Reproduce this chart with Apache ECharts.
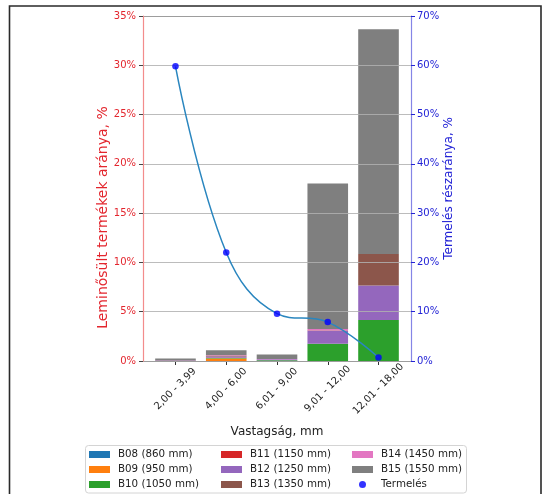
<!DOCTYPE html>
<html>
<head>
<meta charset="utf-8">
<script src="https://cdn.jsdelivr.net/npm/echarts@6/dist/echarts.min.js"></script>
<style>
  html, body { margin: 0; padding: 0; background: #fff; }
  #chart { width: 545px; height: 494px; }
</style>
</head>
<body>
<div id="chart"></div>
<script>
// Thickness classes (x axis)
const categories = ['2,00 - 3,99', '4,00 - 6,00', '6,01 - 9,00', '9,01 - 12,00', '12,01 - 18,00'];

// Share of downgraded products per width class, % (left axis, stacked)
const b08 = [0, 0, 0, 0, 0];
const b09 = [0, 0.25, 0, 0, 0];
const b10 = [0, 0.05, 0.08, 1.75, 4.15];
const b11 = [0, 0.03, 0, 0, 0];
const b12 = [0.05, 0.12, 0.1, 1.3, 3.5];
const b13 = [0.02, 0.1, 0, 0.05, 3.2];
const b14 = [0, 0.07, 0.02, 0.15, 0];
const b15 = [0.18, 0.47, 0.47, 14.75, 22.8];

// Production share per thickness class, % (right axis)
const production = [59.8, 22.0, 9.6, 7.9, 0.7];

const widthNames = ['B08 (860 mm)', 'B09 (950 mm)', 'B10 (1050 mm)', 'B11 (1150 mm)',
  'B12 (1250 mm)', 'B13 (1350 mm)', 'B14 (1450 mm)', 'B15 (1550 mm)'];
const widthValues = [b08, b09, b10, b11, b12, b13, b14, b15];
const widthColors = ['#1f77b4', '#ff7f0e', '#2ca02c', '#d62728', '#9467bd', '#8c564b', '#e377c2', '#7f7f7f'];

const FONT = 'DejaVu Sans';
const RED = '#e3262e';
const BLUE = '#2323d6';
const positions = categories.map((c, i) => i);

// Frame of the plot: x runs from -0.64 to 4.64 (bars of width 0.8 plus 5% margin)
const X_MIN = -0.64, X_MAX = 4.64;
const FRAME = { left: 143, right: 411, top: 16, bottom: 361 };
const unit = (FRAME.right - FRAME.left) / (X_MAX - X_MIN);
const bandLeft = FRAME.left + (-0.5 - X_MIN) * unit;
const bandRight = bandLeft + categories.length * unit;

const chart = echarts.init(document.getElementById('chart'), null, { renderer: 'canvas' });

const barSeries = widthNames.map((name, k) => ({
  name: name,
  type: 'bar',
  stack: 'widths',
  xAxisIndex: 0,
  yAxisIndex: 0,
  barWidth: '80%',
  itemStyle: { color: widthColors[k] },
  data: widthValues[k],
  z: 2
}));

const legendBase = {
  orient: 'vertical',
  top: 448,
  padding: 0,
  itemGap: 2,
  itemWidth: 21,
  itemHeight: 7,
  textStyle: { fontFamily: FONT, fontSize: 10.3, color: '#222', lineHeight: 13, padding: [0, 0, 0, 3] }
};
const rectItem = n => ({ name: n, icon: 'rect' });

chart.setOption({
  animation: false,
  backgroundColor: '#fff',
  textStyle: { fontFamily: FONT },
  grid: [
    // bars
    { left: bandLeft, right: 545 - bandRight, top: FRAME.top, bottom: 494 - FRAME.bottom, containLabel: false },
    // axes frame, grid lines and production curve
    { left: FRAME.left, right: 545 - FRAME.right, top: FRAME.top, bottom: 494 - FRAME.bottom, containLabel: false }
  ],
  legend: [
    Object.assign({}, legendBase, { left: 89, data: widthNames.slice(0, 3).map(rectItem) }),
    Object.assign({}, legendBase, { left: 221, data: widthNames.slice(3, 6).map(rectItem) }),
    Object.assign({}, legendBase, { left: 352, data: [rectItem(widthNames[6]), rectItem(widthNames[7]), { name: 'Termelés', icon: 'circle' }] })
  ],
  xAxis: [
    {
      gridIndex: 0,
      type: 'category',
      data: categories,
      boundaryGap: true,
      axisLine: { show: false },
      axisTick: { show: false },
      axisLabel: { show: false },
      splitLine: { show: false }
    },
    {
      gridIndex: 1,
      type: 'value',
      position: 'bottom',
      min: X_MIN,
      max: X_MAX,
      name: 'Vastagság, mm',
      nameLocation: 'middle',
      nameGap: 65,
      nameTextStyle: { fontFamily: FONT, fontSize: 12, color: '#222' },
      axisLine: { show: true, onZero: false, lineStyle: { color: '#333', width: 1 } },
      axisTick: { show: true, customValues: positions, length: 4, lineStyle: { color: '#333' } },
      axisLabel: {
        customValues: positions,
        formatter: v => categories[Math.round(v)],
        rotate: 45,
        align: 'center',
        verticalAlign: 'middle',
        margin: 28,
        fontFamily: FONT,
        fontSize: 10,
        color: '#222'
      },
      splitLine: { show: false }
    },
    {
      gridIndex: 1,
      type: 'value',
      position: 'top',
      min: X_MIN,
      max: X_MAX,
      axisLine: { show: true, onZero: false, lineStyle: { color: '#333', width: 1 } },
      axisTick: { show: false },
      axisLabel: { show: false },
      splitLine: { show: false }
    }
  ],
  yAxis: [
    {
      gridIndex: 0,
      type: 'value',
      min: 0,
      max: 35,
      show: false
    },
    {
      gridIndex: 1,
      type: 'value',
      position: 'left',
      min: 0,
      max: 35,
      interval: 5,
      z: 3,
      name: 'Leminősült termékek aránya, %',
      nameLocation: 'middle',
      nameRotate: 90,
      nameGap: 28,
      nameTextStyle: { fontFamily: FONT, fontSize: 14, color: RED, padding: [0, 58, 0, 0] },
      axisLine: { show: true, onZero: false, lineStyle: { color: '#f38c8c', width: 1.2 } },
      axisTick: { show: true, length: 4, lineStyle: { color: '#444' } },
      axisLabel: { formatter: '{value}%', margin: 7, fontFamily: FONT, fontSize: 10, color: RED },
      splitLine: { show: true, lineStyle: { color: 'rgba(176,176,176,0.85)', width: 1 } }
    },
    {
      gridIndex: 1,
      type: 'value',
      position: 'right',
      min: 0,
      max: 70,
      interval: 10,
      name: 'Termelés részaránya, %',
      nameLocation: 'middle',
      nameRotate: 90,
      nameGap: 32,
      nameTextStyle: { fontFamily: FONT, fontSize: 12, color: BLUE },
      axisLine: { show: true, onZero: false, lineStyle: { color: '#8585e6', width: 1.2 } },
      axisTick: { show: true, length: 4, lineStyle: { color: BLUE } },
      axisLabel: { formatter: '{value}%', margin: 6, fontFamily: FONT, fontSize: 10, color: BLUE },
      splitLine: { show: false }
    }
  ],
  series: barSeries.concat([
    {
      name: 'Termelés görbe',
      type: 'line',
      xAxisIndex: 1,
      yAxisIndex: 2,
      smooth: 0.4,
      showSymbol: false,
      lineStyle: { color: '#2a86bf', width: 1.5 },
      itemStyle: { color: '#2a86bf' },
      data: positions.map(i => [i, production[i]]),
      z: 4,
      silent: true
    },
    {
      name: 'Termelés',
      type: 'scatter',
      xAxisIndex: 1,
      yAxisIndex: 2,
      symbol: 'circle',
      symbolSize: 6.5,
      itemStyle: { color: '#0000ff' },
      data: positions.map(i => [i, production[i]]),
      z: 5
    }
  ]),
  graphic: [
    {
      type: 'rect',
      silent: true,
      shape: { x: 85.5, y: 445.5, width: 381, height: 47.5, r: 3 },
      style: { fill: 'none', stroke: '#d4d4d4', lineWidth: 1 }
    },
    {
      type: 'rect',
      silent: true,
      shape: { x: 9.5, y: 6, width: 531.5, height: 500 },
      style: { fill: 'none', stroke: '#2a2a2a', lineWidth: 1.6 }
    }
  ]
});
</script>
</body>
</html>
